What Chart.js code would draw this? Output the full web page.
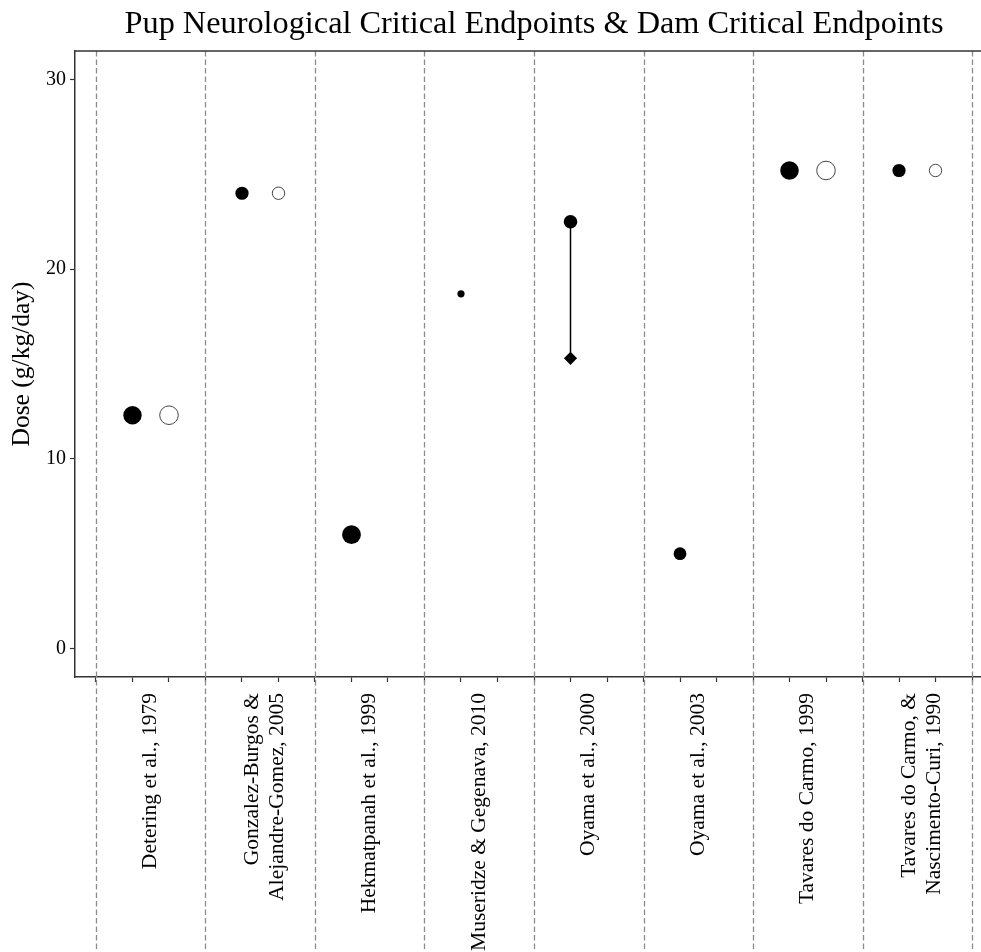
<!DOCTYPE html>
<html>
<head>
<meta charset="utf-8">
<script src="https://cdn.jsdelivr.net/npm/chart.js@4.4.1/dist/chart.umd.min.js"></script>
<style>
  html, body { margin: 0; padding: 0; background: #fff; overflow: hidden; width: 981px; height: 952px; }
  #clip { position: relative; width: 981px; height: 952px; overflow: hidden; }
  #wrap { position: absolute; left: 0; top: 0; width: 993px; height: 952px; }
</style>
</head>
<body>
<div id="clip"><div id="wrap"><canvas id="c" width="993" height="952"></canvas></div></div>
<script>
// ---- data ----
const studyLabels = [
  ["Detering et al., 1979"],
  ["Gonzalez-Burgos &", "Alejandre-Gomez, 2005"],
  ["Hekmatpanah et al., 1999"],
  ["Museridze & Gegenava, 2010"],
  ["Oyama et al., 2000"],
  ["Oyama et al., 2003"],
  ["Tavares do Carmo, 1999"],
  ["Tavares do Carmo, &", "Nascimento-Curi, 1990"]
];
// pup neurological critical endpoints (filled circles)
const pupDose = [12.3, 24.0, 6.0, 18.7, 22.5, 5.0, 25.2, 25.2];
// second pup value of a range (diamond), joined to the circle by a line
const pupDoseLow = [null, null, null, null, 15.3, null, null, null];
// dam critical endpoints (open circles)
const damDose = [12.3, 24.0, null, null, null, null, 25.2, 25.2];
// marker radii
const pupRadius = [9.2, 6.6, 9.4, 3.6, 6.8, 6.4, 9.3, 6.6];
const damRadius = [9.3, 6.2, 0, 0, 0, 0, 9.3, 6.2];
const yTicks = [0, 10, 20, 30];

// ---- derived ----
const SLOT = 3; // separator, pup, dam per study
const nStudies = studyLabels.length;
const pupPts = [], damPts = [], lowPts = [], rangeLines = [];
const pupR = [], damR = [];
studyLabels.forEach((s, i) => {
  if (pupDose[i] != null) { pupPts.push({x: i * SLOT + 1, y: pupDose[i]}); pupR.push(pupRadius[i]); }
  if (damDose[i] != null) { damPts.push({x: i * SLOT + 2, y: damDose[i]}); damR.push(damRadius[i]); }
  if (pupDoseLow[i] != null) {
    lowPts.push({x: i * SLOT + 1, y: pupDoseLow[i]});
    rangeLines.push({x: i * SLOT + 1, y: pupDose[i]}, {x: i * SLOT + 1, y: pupDoseLow[i]});
  }
});
const centerVals = studyLabels.map((s, i) => i * SLOT + 1.5);
const sepVals = [];
for (let i = 0; i <= nStudies; i++) sepVals.push(i * SLOT);

const FONT = "'Liberation Serif', 'Times New Roman', serif";
const AXIS = '#333333';
const X_LABEL_SIZE = 21.5, X_LABEL_LH = 1.17;
const X_MIN = -0.575, X_MAX = 24.575;

const framePlugin = {
  id: 'frame',
  beforeDatasetsDraw(chart) {
    const {ctx, chartArea, scales} = chart;
    ctx.save();
    ctx.strokeStyle = '#8c8c8c';
    ctx.lineWidth = 1.3;
    ctx.setLineDash([5.5, 3]);
    sepVals.forEach(v => {
      const x = Math.round(scales.x.getPixelForValue(v)) + 0.5;
      ctx.beginPath();
      ctx.moveTo(x, chartArea.top);
      ctx.lineTo(x, chart.height);
      ctx.stroke();
    });
    ctx.restore();
  },
  afterDraw(chart) {
    const {ctx, chartArea} = chart;
    ctx.save();
    ctx.strokeStyle = AXIS;
    ctx.lineWidth = 1.5;
    ctx.beginPath();
    ctx.moveTo(chartArea.left, chartArea.top);
    ctx.lineTo(chartArea.right, chartArea.top);
    ctx.stroke();
    ctx.restore();
  }
};

new Chart(document.getElementById('c'), {
  type: 'scatter',
  data: {
    datasets: [
      {
        type: 'line',
        data: rangeLines,
        borderColor: '#000',
        borderWidth: 1.5,
        pointRadius: 0,
        fill: false
      },
      {
        data: pupPts,
        pointRadius: pupR,
        backgroundColor: '#000',
        borderColor: '#000',
        borderWidth: 0
      },
      {
        data: lowPts,
        pointStyle: 'rectRot',
        pointRadius: 6.6,
        backgroundColor: '#000',
        borderColor: '#000',
        borderWidth: 0
      },
      {
        data: damPts,
        pointRadius: damR,
        backgroundColor: '#fff',
        borderColor: '#444',
        borderWidth: 1
      }
    ]
  },
  options: {
    responsive: false,
    animation: false,
    devicePixelRatio: 1,
    layout: { padding: 0, autoPadding: false },
    plugins: {
      legend: { display: false },
      tooltip: { enabled: false },
      title: {
        display: true,
        fullSize: false,
        text: 'Pup Neurological Critical Endpoints & Dam Critical Endpoints',
        color: '#000',
        font: { family: FONT, size: 32.3, weight: 'normal', lineHeight: 1.2 },
        padding: { top: 5, bottom: 7.2 }
      }
    },
    scales: {
      x: {
        type: 'linear',
        min: X_MIN,
        max: X_MAX,
        afterFit(scale) {
          scale.height = 275;
          scale.paddingLeft = 0;
          scale.paddingRight = 0;
        },
        afterBuildTicks(scale) {
          const ticks = [];
          for (let v = 0; v <= nStudies * SLOT; v++) ticks.push({value: v, study: -1});
          // multi-line labels: shift the tick so the line block sits near the group centre
          const ppu = (scale.width || 918) / (X_MAX - X_MIN);
          const lh = X_LABEL_SIZE * X_LABEL_LH;
          centerVals.forEach((v, i) => {
            const extra = studyLabels[i].length - 1;
            ticks.push({value: v - extra * lh * 0.33 / ppu, study: i});
          });
          ticks.sort((a, b) => a.value - b.value);
          scale.ticks = ticks;
        },
        border: { display: true, color: AXIS, width: 1.5 },
        grid: {
          drawOnChartArea: false,
          drawTicks: true,
          tickLength: 5,
          tickWidth: 1.2,
          tickColor: (ctx) => (ctx.tick && ctx.tick.study < 0) ? AXIS : 'rgba(0,0,0,0)'
        },
        ticks: {
          autoSkip: false,
          minRotation: 90,
          maxRotation: 90,
          padding: 11,
          color: '#000',
          font: { family: FONT, size: X_LABEL_SIZE, lineHeight: X_LABEL_LH },
          callback(value, index, ticks) {
            const t = ticks[index];
            return (t && t.study >= 0) ? studyLabels[t.study] : '';
          }
        }
      },
      y: {
        min: -1.5,
        max: 31.5,
        afterFit(scale) { scale.width = 75; },
        afterBuildTicks(scale) { scale.ticks = yTicks.map(v => ({value: v})); },
        border: { display: true, color: AXIS, width: 1.5 },
        grid: {
          drawOnChartArea: false,
          drawTicks: true,
          tickLength: 5,
          tickWidth: 1.2,
          tickColor: AXIS
        },
        ticks: {
          padding: 4,
          color: '#000',
          font: { family: FONT, size: 20 }
        },
        title: {
          display: true,
          text: 'Dose (g/kg/day)',
          color: '#000',
          font: { family: FONT, size: 25.5, lineHeight: 1.2 },
          padding: { top: 7, bottom: 0 }
        }
      }
    }
  },
  plugins: [framePlugin]
});
</script>
</body>
</html>
